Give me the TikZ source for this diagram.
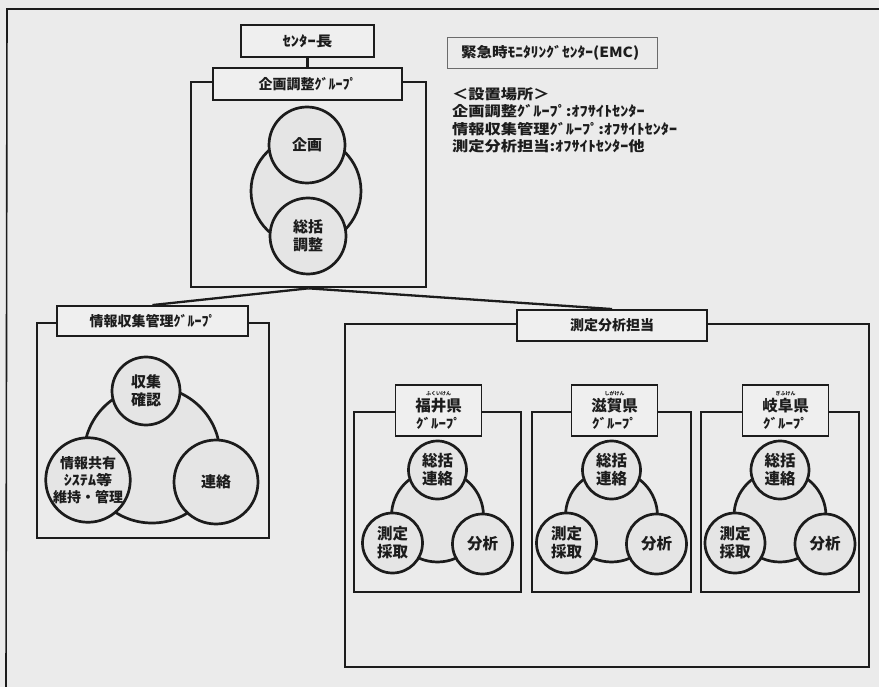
\documentclass[tikz,border=0pt]{standalone}
\usepackage{graphicx}
\usepackage{fontspec}
\setmainfont{Noto Sans CJK JP}
\definecolor{bg}{HTML}{EBEBEB}
\definecolor{boxbg}{HTML}{EFEFEF}
\definecolor{circbg}{HTML}{E5E5E5}
\definecolor{ink}{HTML}{1C1C1C}
\newcommand\fs[1]{\fontsize{#1}{#1}\selectfont}
\begin{document}
\begin{tikzpicture}[x=1pt,y=-1pt,
  frame/.style={draw=ink, line width=2.7pt, fill=bg, inner sep=0pt},
  lbl/.style={draw=ink, line width=1.9pt, fill=boxbg, inner sep=0pt, text=ink, font=\bfseries\fs{14}, align=center},
  circ/.style={circle, draw=ink, line width=2.7pt, fill=circbg, inner sep=0pt, text=ink, align=center, font=\bfseries\fontsize{15}{18}\selectfont},
  scirc/.style={circ, font=\bfseries\fontsize{15.5}{18}\selectfont},
  ring/.style={circle, draw=ink, line width=2.7pt, inner sep=0pt},
  conn/.style={draw=ink, line width=2.3pt},
  plain/.style={text=ink, inner sep=0pt, font=\bfseries\fontsize{14}{17.4}\selectfont, align=left}]
\useasboundingbox (0,0) rectangle (879,687);
\fill[bg] (0,0) rectangle (879,687);
% outer border (cropped)
\coordinate (bTL) at (7,9);
\coordinate (bTR) at (879,9);
\coordinate (bBL) at (6,687);
\draw[ink, line width=1.6pt] (bBL) -- (bTL) -- (bTR);

% ---------- top group ----------
\node[frame, minimum width=235pt, minimum height=205pt] (pfr) at (308.5,184.5) {};
\node[lbl, minimum width=133pt, minimum height=32pt] (chief) at (307.5,41) {\scalebox{1.18}[1]{ｾﾝﾀｰ長}};
\node[lbl, minimum width=189pt, minimum height=32pt] (plan) at (307.5,84) {企画調整ｸﾞﾙｰﾌﾟ};
\draw[conn] (chief.south) -- (plan.north);
\node[ring, fill=circbg, minimum size=110pt] (pring) at (306,191) {};
\node[circ, minimum size=76pt] (kikaku) at (307,145) {企画};
\node[circ, minimum size=76pt] (sokatsu) at (308,236) {総括\\調整};

% ---------- EMC title and locations ----------
\node[draw=ink!65, line width=0.9pt, fill=bg, minimum height=31pt, text width=182pt, inner xsep=14pt, align=left, text=ink, font=\bfseries\fs{14}] (emc) at (552,52.5) {\scalebox{1.11}[1]{緊急時ﾓﾆﾀﾘﾝｸﾞｾﾝﾀｰ(EMC)}};
\node[plain, anchor=north west] (place) at (452,87) {\scalebox{1.16}[1]{\begin{tabular}{@{}l@{}}＜設置場所＞\\企画調整ｸﾞﾙｰﾌﾟ:ｵﾌｻｲﾄｾﾝﾀｰ\\情報収集管理ｸﾞﾙｰﾌﾟ:ｵﾌｻｲﾄｾﾝﾀｰ\\測定分析担当:ｵﾌｻｲﾄｾﾝﾀｰ他\end{tabular}}};

% ---------- left group ----------
\node[frame, minimum width=232pt, minimum height=215pt] (ifr) at (153,430.5) {};
\node[ring, fill=circbg, minimum size=136pt] (iring) at (152,455) {};
\node[circ, minimum size=68pt] (shushu) at (146,391) {収集\\確認};
\node[circ, minimum size=84pt, font=\bfseries\fontsize{14}{17}\selectfont] (kyoyu) at (88,480) {情報共有\\\scalebox{1.15}[1]{ｼｽﾃﾑ等}\\維持・管理};
\node[circ, minimum size=84pt] (renraku) at (216,482) {連絡};

% ---------- right group ----------
\node[frame, minimum width=524pt, minimum height=343pt] (mfr) at (607,495.5) {};

\foreach \nm/\fc/\fw/\lc/\ruby/\pref in {fukui/437.5/167/438.5/ふくいけん/福井県, shiga/611.5/159/614.5/しがけん/滋賀県, gifu/780/158/785.5/ぎふけん/岐阜県}{
  \node[frame, minimum width=\fw pt, minimum height=180pt] (\nm fr) at (\fc,502) {};
  \node[lbl, minimum width=86pt, minimum height=51pt] (\nm lbl) at (\lc,410.5) {{\fs{5}\ruby}\\[1.5pt]{\fs{15.5}\pref}\\[3pt]{\fs{13}\scalebox{1.15}[1]{ｸﾞﾙｰﾌﾟ}}};
  \node[ring, fill=circbg, minimum size=92pt] (\nm ring) at (\fc,516) {};
  \node[scirc, minimum size=58pt] (\nm top) at (\fc,470) {総括\\連絡};
  \node[scirc, minimum size=60pt] (\nm left) at (\fc-45,543) {測定\\採取};
  \node[scirc, minimum size=60pt] (\nm right) at (\fc+45,544) {分析};
}

% ---------- connectors ----------
\node[lbl, minimum width=191pt, minimum height=30pt] (infolbl) at (152.5,321) {情報収集管理ｸﾞﾙｰﾌﾟ};
\node[lbl, minimum width=190pt, minimum height=31pt] (measlbl) at (612,325.5) {測定分析担当};
\draw[conn] (pfr.south) -- (infolbl.north);
\draw[conn] (pfr.south) -- (measlbl.north);
\end{tikzpicture}
\end{document}
